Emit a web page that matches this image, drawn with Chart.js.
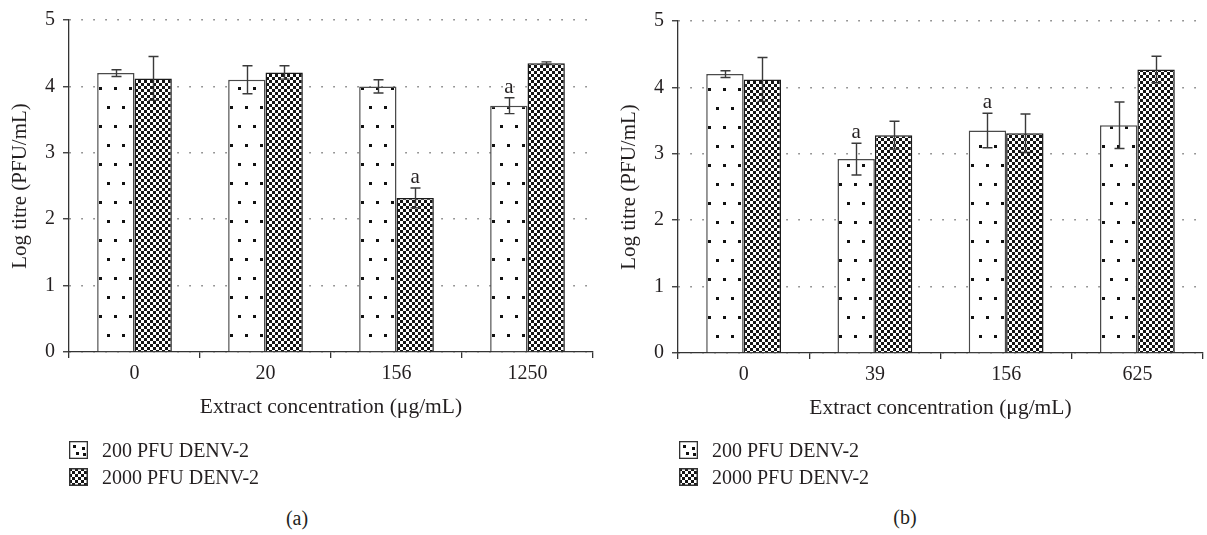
<!DOCTYPE html>
<html>
<head>
<meta charset="utf-8">
<script src="https://cdn.jsdelivr.net/npm/chart.js@4.4.1/dist/chart.umd.min.js"></script>
<style>
html,body{margin:0;padding:0;background:#fff;}
#wrap{position:relative;width:1207px;height:535px;overflow:hidden;font-family:"Liberation Serif","Times New Roman",serif;color:#231f20;}
.panel{position:absolute;}
.legtxt{position:absolute;font-size:20px;line-height:24px;white-space:nowrap;}
.sw{position:absolute;}
.cap{position:absolute;width:100px;text-align:center;font-size:20px;line-height:24px;}
</style>
</head>
<body>
<div id="wrap">
  <canvas id="chartA" class="panel" width="600" height="440" style="left:0;top:0;"></canvas>
  <canvas id="chartB" class="panel" width="598" height="440" style="left:609px;top:1px;"></canvas>

  <canvas id="swA1" class="sw" width="19" height="18" style="left:69px;top:441px;"></canvas>
  <div class="legtxt" style="left:102px;top:438px;">200 PFU DENV-2</div>
  <canvas id="swA2" class="sw" width="19" height="18" style="left:69px;top:468px;"></canvas>
  <div class="legtxt" style="left:102px;top:465px;">2000 PFU DENV-2</div>
  <div class="cap" style="left:247px;top:506px;">(a)</div>

  <canvas id="swB1" class="sw" width="19" height="18" style="left:679px;top:441px;"></canvas>
  <div class="legtxt" style="left:712px;top:438px;">200 PFU DENV-2</div>
  <canvas id="swB2" class="sw" width="19" height="18" style="left:679px;top:468px;"></canvas>
  <div class="legtxt" style="left:712px;top:465px;">2000 PFU DENV-2</div>
  <div class="cap" style="left:855px;top:505px;">(b)</div>
</div>
<script>
// ---------- data ----------
const seriesNames = ['200 PFU DENV-2', '2000 PFU DENV-2'];
const yTicks = [0, 1, 2, 3, 4, 5];
const yTitle = 'Log titre (PFU/mL)';
const xTitle = 'Extract concentration (\u03bcg/mL)';

const categoriesA = ['0', '20', '156', '1250'];
const pfu200A = [4.20, 4.10, 4.00, 3.71];
const pfu200ErrA = [0.05, 0.21, 0.10, 0.12];
const pfu200SigA = ['', '', '', 'a'];
const pfu2000A = [4.12, 4.21, 2.32, 4.35];
const pfu2000ErrA = [0.33, 0.10, 0.15, 0.02];
const pfu2000SigA = ['', '', 'a', ''];

const categoriesB = ['0', '39', '156', '625'];
const pfu200B = [4.20, 2.92, 3.35, 3.43];
const pfu200ErrB = [0.05, 0.24, 0.26, 0.35];
const pfu200SigB = ['', 'a', 'a', ''];
const pfu2000B = [4.12, 3.28, 3.31, 4.27];
const pfu2000ErrB = [0.33, 0.21, 0.29, 0.20];
const pfu2000SigB = ['', '', '', ''];

// ---------- styling ----------
const FONT = '"Liberation Serif", "Times New Roman", serif';
const TEXT = '#231f20';
const CAT_PCT = 0.57;

function dotTile() {
  const c = document.createElement('canvas');
  c.width = 15; c.height = 38;
  const g = c.getContext('2d');
  g.fillStyle = '#fff'; g.fillRect(0, 0, 15, 38);
  g.fillStyle = '#111';
  g.fillRect(2, 0, 3, 3);
  g.fillRect(10, 19, 3, 3);
  return c;
}
function checkTile() {
  const c = document.createElement('canvas');
  c.width = 6; c.height = 6;
  const g = c.getContext('2d');
  g.fillStyle = '#fff'; g.fillRect(0, 0, 6, 6);
  g.fillStyle = '#151515';
  g.fillRect(0, 0, 3, 3);
  g.fillRect(3, 3, 3, 3);
  return c;
}
const DOT_TILE = dotTile();
const CHECK_TILE = checkTile();

function makePattern(ctx2d, tile, tx, ty) {
  const p = ctx2d.createPattern(tile, 'repeat');
  if (p.setTransform) p.setTransform(new DOMMatrix().translate(tx, ty));
  return p;
}

function barFill(kind) {
  return function (c) {
    const chart = c.chart;
    const tile = kind === 'dot' ? DOT_TILE : CHECK_TILE;
    const xs = chart.scales && chart.scales.x;
    const ys = chart.scales && chart.scales.y;
    if (c.type !== 'data' || !xs || !ys || !xs.width) {
      return makePattern(chart.ctx, tile, 0, 0);
    }
    const n = chart.data.labels.length;
    const catW = xs.width / n;
    const barW = catW * CAT_PCT / 2;
    const center = xs.getPixelForValue(c.dataIndex);
    const left = center - barW + c.datasetIndex * barW;
    const zero = ys.getPixelForValue(0);
    const phase = kind === 'dot' ? (c.dataIndex % 2) * 19 : 0;
    return makePattern(chart.ctx, tile, Math.round(left), Math.round(zero) + 1 + phase);
  };
}

const errorBarPlugin = {
  id: 'errorBars',
  afterDatasetsDraw(chart) {
    const { ctx } = chart;
    const ys = chart.scales.y;
    ctx.save();
    chart.data.datasets.forEach((ds, di) => {
      const meta = chart.getDatasetMeta(di);
      meta.data.forEach((bar, i) => {
        const v = ds.data[i], e = ds.errors[i];
        const yt = ys.getPixelForValue(v + e);
        const yb = ys.getPixelForValue(v - e);
        const x = Math.round(bar.x) + 0.5;
        ctx.strokeStyle = '#3a3a3a';
        ctx.lineWidth = 1.4;
        ctx.setLineDash([]);
        ctx.beginPath();
        ctx.moveTo(x, yt); ctx.lineTo(x, yb);
        ctx.moveTo(x - 5, yt); ctx.lineTo(x + 5, yt);
        ctx.moveTo(x - 5, yb); ctx.lineTo(x + 5, yb);
        ctx.stroke();
        const s = ds.sig[i];
        if (s) {
          ctx.fillStyle = TEXT;
          ctx.font = '21px ' + FONT;
          ctx.textAlign = 'center';
          ctx.textBaseline = 'alphabetic';
          ctx.fillText(s, bar.x, yt - 5);
        }
      });
    });
    ctx.restore();
  }
};

function buildChart(id, cats, v1, e1, s1, v2, e2, s2, padRight) {
  return new Chart(document.getElementById(id), {
    type: 'bar',
    data: {
      labels: cats,
      datasets: [
        { label: seriesNames[0], data: v1, errors: e1, sig: s1,
          backgroundColor: barFill('dot'), borderColor: '#4a4a4a', borderWidth: 1.5,
          categoryPercentage: CAT_PCT, barPercentage: 1.0 },
        { label: seriesNames[1], data: v2, errors: e2, sig: s2,
          backgroundColor: barFill('check'), borderColor: '#1a1a1a', borderWidth: 1.5,
          categoryPercentage: CAT_PCT, barPercentage: 1.0 }
      ]
    },
    options: {
      responsive: false,
      animation: false,
      devicePixelRatio: 1,
      layout: { padding: { left: 0, top: 14, right: padRight, bottom: 0 } },
      plugins: { legend: { display: false }, tooltip: { enabled: false } },
      scales: {
        x: {
          type: 'category',
          grid: { display: true, drawOnChartArea: false, offset: true, drawTicks: true,
                  tickLength: 6, color: '#333', lineWidth: 1.3, tickBorderDash: [] },
          border: { display: true, color: '#333', width: 1.3 },
          ticks: { color: TEXT, font: { family: FONT, size: 20 }, padding: 4, maxRotation: 0 },
          title: { display: true, text: xTitle, color: TEXT, font: { family: FONT, size: 21.5 },
                   padding: { top: 0, bottom: 20 } },
          afterFit(scale) { scale.height = 440 - 352; }
        },
        y: {
          min: 0, max: 5,
          afterBuildTicks(scale) { scale.ticks = yTicks.map(v => ({ value: v })); },
          grid: { display: true, drawOnChartArea: true, drawTicks: true, tickLength: 6,
                  color: '#7a7a7a', lineWidth: 1.5, tickColor: '#333', tickWidth: 1.3,
                  tickBorderDash: [] },
          border: { display: true, color: '#333', width: 1.3, dash: [1.5, 10.5] },
          ticks: { color: TEXT, font: { family: FONT, size: 20 }, padding: 8 },
          title: { display: true, text: yTitle, color: TEXT, font: { family: FONT, size: 21 },
                   padding: { top: 8, bottom: 0 } },
          afterFit(scale) { scale.width = 69; }
        }
      }
    },
    plugins: [errorBarPlugin]
  });
}

buildChart('chartA', categoriesA, pfu200A, pfu200ErrA, pfu200SigA, pfu2000A, pfu2000ErrA, pfu2000SigA, 7);
buildChart('chartB', categoriesB, pfu200B, pfu200ErrB, pfu200SigB, pfu2000B, pfu2000ErrB, pfu2000SigB, 4);

// legend swatches
function drawSwatch(id, tile, border) {
  const cv = document.getElementById(id);
  const g = cv.getContext('2d');
  g.fillStyle = g.createPattern(tile, 'repeat');
  g.fillRect(0, 0, cv.width, cv.height);
  g.strokeStyle = border; g.lineWidth = 1.5;
  g.strokeRect(0.75, 0.75, cv.width - 1.5, cv.height - 1.5);
}
function drawDotSwatch(id) {
  const cv = document.getElementById(id);
  const g = cv.getContext('2d');
  g.fillStyle = '#fff'; g.fillRect(0, 0, cv.width, cv.height);
  g.fillStyle = '#111';
  g.fillRect(4, 4, 3, 3); g.fillRect(13, 6, 3, 3);
  g.fillRect(7, 11, 3, 3); g.fillRect(14, 12, 3, 3);
  g.strokeStyle = '#333'; g.lineWidth = 1.3;
  g.strokeRect(0.65, 0.65, cv.width - 1.3, cv.height - 1.3);
}
drawDotSwatch('swA1'); drawDotSwatch('swB1');
drawSwatch('swA2', CHECK_TILE, '#333'); drawSwatch('swB2', CHECK_TILE, '#333');
</script>
</body>
</html>
